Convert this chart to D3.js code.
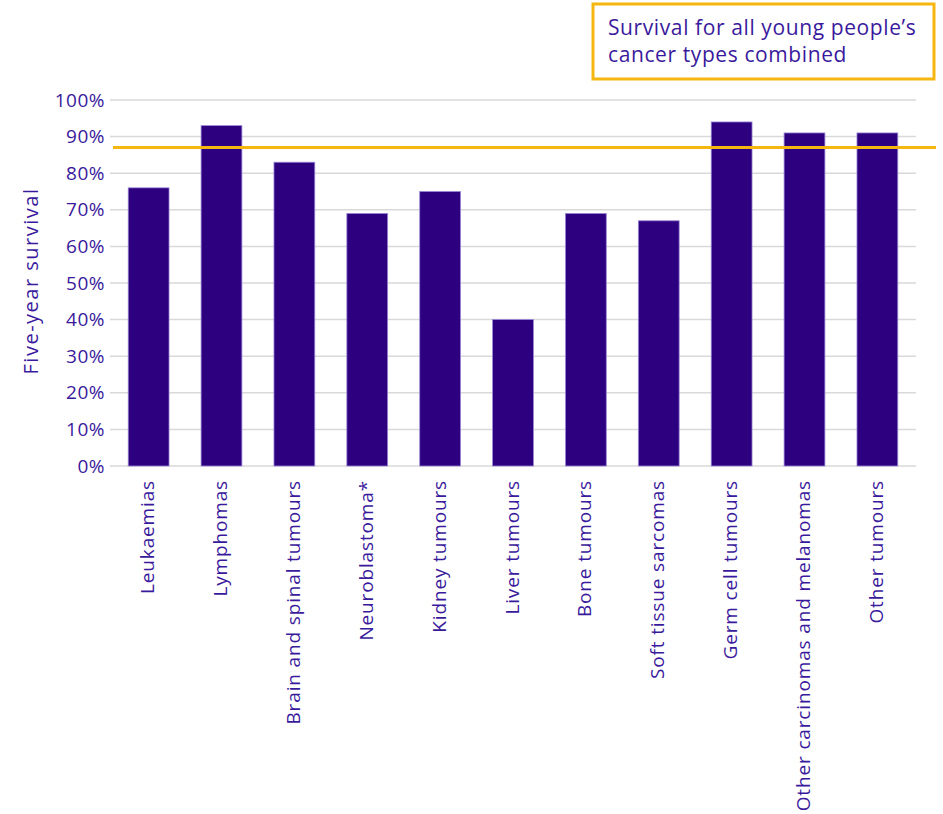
<!DOCTYPE html>
<html>
<head>
<meta charset="utf-8">
<script src="https://cdn.jsdelivr.net/npm/d3@7"></script>
<style>
  html, body { margin: 0; padding: 0; background: #fff; }
  svg { display: block; font-family: "Open Sans", sans-serif; }
</style>
</head>
<body>
<svg id="chart" width="943" height="814"></svg>
<script>
const categories = ["Leukaemias", "Lymphomas", "Brain and spinal tumours", "Neuroblastoma*", "Kidney tumours", "Liver tumours", "Bone tumours", "Soft tissue sarcomas", "Germ cell tumours", "Other carcinomas and melanomas", "Other tumours"];
const survival = [76, 93, 83, 69, 75, 40, 69, 67, 94, 91, 91];
const combinedSurvival = 87;
const yTicks = [0, 10, 20, 30, 40, 50, 60, 70, 80, 90, 100];
const yTitle = "Five-year survival";
const legendLines = ["Survival for all young people\u2019s", "cancer types combined"];

const textColor = "#3a1a9c";
const barColor = "#2d0080";
const orange = "#f5b70f";

const svg = d3.select("#chart");
const mLeft = 110, mRight = 916, mTop = 100, mBottom = 466;

const x = d3.scaleBand().domain(categories).range([mLeft, mRight]).paddingInner(0.44).paddingOuter(0.25);
const y = d3.scaleLinear().domain([0, 100]).range([mBottom, mTop]);

// gridlines
svg.append("g").selectAll("line").data(yTicks).join("line")
  .attr("x1", mLeft).attr("x2", mRight)
  .attr("y1", d => y(d)).attr("y2", d => y(d))
  .attr("stroke", "#d9d9d9").attr("stroke-width", 1.5);

// y axis labels
const yAxis = d3.axisLeft(y).tickValues(yTicks).tickFormat(d => d + "%").tickSize(0).tickPadding(5);
const yg = svg.append("g").attr("transform", `translate(${mLeft},0)`).call(yAxis);
yg.select(".domain").remove();
yg.selectAll("text").attr("fill", textColor).attr("font-size", 19)
  .attr("letter-spacing", 0.5).attr("font-family", "Open Sans, sans-serif");

// bars
svg.append("g").selectAll("rect").data(categories).join("rect")
  .attr("x", d => x(d))
  .attr("y", (d, i) => y(survival[i]))
  .attr("width", x.bandwidth())
  .attr("height", (d, i) => y(0) - y(survival[i]))
  .attr("fill", barColor)
  .attr("stroke", "#9a86d6").attr("stroke-width", 0.8);

// x labels
const xAxis = d3.axisBottom(x).tickSize(0).tickPadding(0);
const xg = svg.append("g").attr("transform", `translate(0,${mBottom})`).call(xAxis);
xg.select(".domain").remove();
xg.selectAll("text")
  .attr("fill", textColor).attr("font-size", 19).attr("letter-spacing", 0.85)
  .attr("font-family", "Open Sans, sans-serif")
  .attr("text-anchor", "end")
  .attr("dy", null).attr("y", null)
  .attr("transform", "translate(5.5,14) rotate(-90)");

// y title
svg.append("text")
  .attr("transform", `translate(38,281) rotate(-90)`)
  .attr("text-anchor", "middle")
  .attr("fill", textColor).attr("font-size", 20).attr("letter-spacing", 1.5)
  .text(yTitle);

// combined line
svg.append("line")
  .attr("x1", 113).attr("x2", 936)
  .attr("y1", y(combinedSurvival)).attr("y2", y(combinedSurvival))
  .attr("stroke", orange).attr("stroke-width", 3);

// legend box
svg.append("rect").attr("x", 593).attr("y", 4).attr("width", 341).attr("height", 75)
  .attr("fill", "#fff").attr("stroke", orange).attr("stroke-width", 3);
svg.append("g").selectAll("text").data(legendLines).join("text")
  .attr("x", 608).attr("y", (d, i) => 35 + i * 27)
  .attr("fill", textColor).attr("font-size", 21).attr("letter-spacing", 0.6)
  .text(d => d);
</script>
</body>
</html>
